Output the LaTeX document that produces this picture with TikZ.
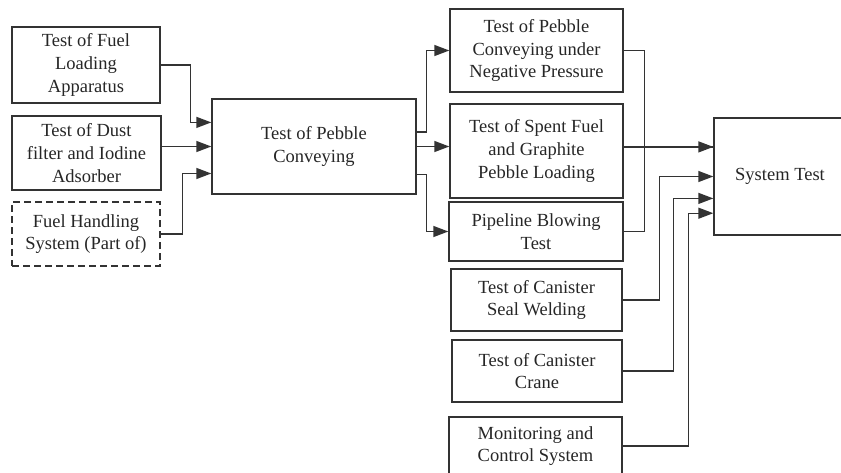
\documentclass[tikz,border=0pt]{standalone}
\usepackage{fontspec}
\setmainfont{Liberation Serif}
\usepackage{tikz}
\usetikzlibrary{arrows.meta,calc}
\tikzset
{
    testbox/.style = {rectangle, draw=black!80, line width=1.4pt, align=center, inner sep=2pt, text=black!85, font=\fontsize{18.5}{22.7}\selectfont},
    partbox/.style = {testbox, dash pattern=on 7pt off 4pt},
    flow/.style    = {draw=black!80, line width=1.4pt, -{Triangle[length=15pt,width=11pt]}},
    link/.style    = {draw=black!80, line width=1.4pt}
}
\begin{document}
\begin{tikzpicture}[x=1pt, y=-1pt]
	\clip (0,0) rectangle (841,472);
	% sources of the pebble conveying test
	\node[testbox, minimum width=148pt, minimum height=76pt] (load) at (86,65) {Test of Fuel\\Loading\\Apparatus};
	\node[testbox, minimum width=149pt, minimum height=74pt] (dust) at (86.5,153) {Test of Dust\\filter and Iodine\\Adsorber};
	\node[partbox, minimum width=148pt, minimum height=64pt] (handling) at (86,234) {Fuel Handling\\System (Part of)};
	\node[testbox, minimum width=204pt, minimum height=95pt] (pebble) at (314,146.5) {Test of Pebble\\Conveying};
	% middle column
	\node[testbox, minimum width=173pt, minimum height=83pt] (negative) at (536.5,50.5) {Test of Pebble\\Conveying under\\Negative Pressure};
	\node[testbox, minimum width=173pt, minimum height=94pt] (spent) at (536.5,151) {Test of Spent Fuel\\and Graphite\\Pebble Loading};
	\node[testbox, minimum width=174pt, minimum height=59pt] (blowing) at (536,231.5) {Pipeline Blowing\\Test};
	\node[testbox, minimum width=171pt, minimum height=62pt] (seal) at (536.5,300) {Test of Canister\\Seal Welding};
	\node[testbox, minimum width=170pt, minimum height=62pt] (crane) at (537,371) {Test of Canister\\Crane};
	\node[testbox, minimum width=173pt, minimum height=58pt] (monitor) at (535.5,446) {Monitoring and\\Control System};
	% target
	\node[testbox, minimum width=132pt, minimum height=117pt] (system) at (780,176.5) {System Test};

	\coordinate (p1) at ($(pebble.north west)!0.25!(pebble.south west)$);
	\coordinate (p3) at ($(pebble.north west)!0.78!(pebble.south west)$);
	\coordinate (q1) at ($(pebble.north east)!0.35!(pebble.south east)$);
	\coordinate (q3) at ($(pebble.north east)!0.79!(pebble.south east)$);
	\coordinate (s1) at ($(system.north west)!0.25!(system.south west)$);
	\coordinate (s2) at ($(system.north west)!0.5!(system.south west)$);
	\coordinate (s3) at ($(system.north west)!0.685!(system.south west)$);
	\coordinate (s4) at ($(system.north west)!0.81!(system.south west)$);

	\draw[flow] (load.east) -- ++(30,0) |- (p1);
	\draw[flow] (dust.east |- pebble.west) -- (pebble.west);
	\draw[flow] (handling.east) -- ++(22,0) |- (p3);

	\draw[flow] (q1) -- ++(10,0) |- (negative.west);
	\draw[flow] (pebble.east) -- (pebble.east -| spent.west);
	\draw[flow] (q3) -- ++(10,0) |- (blowing.west);

	\draw[link] (negative.east) -- ++(21,0) |- (s1);
	\draw[flow] (spent.east |- s1) -- (s1);
	\draw[link] (blowing.east) -- ++(21,0) |- (s1);
	\draw[flow] (seal.east) -- ++(37,0) |- (s2);
	\draw[flow] (crane.east) -- ++(51,0) |- (s3);
	\draw[flow] (monitor.east) -- ++(66,0) |- (s4);
\end{tikzpicture}
\end{document}
